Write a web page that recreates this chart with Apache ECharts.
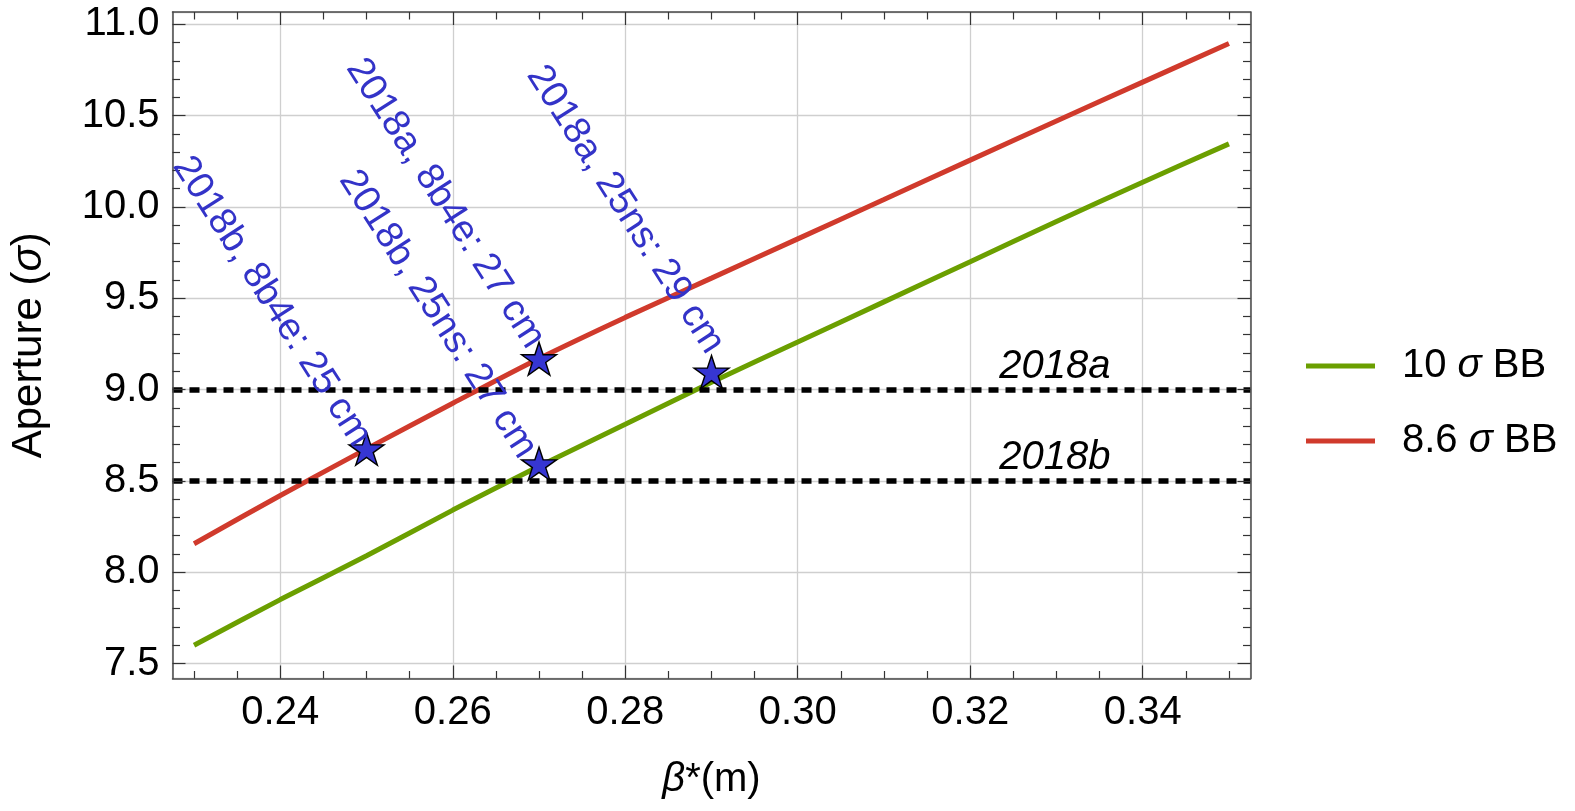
<!DOCTYPE html>
<html><head><meta charset="utf-8">
<script src="https://cdn.jsdelivr.net/npm/echarts@6/dist/echarts.min.js"></script>
<style>html,body{margin:0;padding:0;background:#fff}#c{width:1575px;height:811px}</style>
</head><body><div id="c"></div>
<script>
// ---- data ----
const betaStar   = [0.23, 0.24, 0.25, 0.26, 0.27, 0.28, 0.29, 0.30, 0.31, 0.32, 0.33, 0.34, 0.35];
const aperture10 = [7.60, 7.85, 8.09, 8.34, 8.58, 8.81, 9.04, 9.26, 9.48, 9.70, 9.92, 10.135, 10.345];
const aperture86 = [8.156, 8.42, 8.675, 8.925, 9.17, 9.395, 9.61, 9.825, 10.04, 10.256, 10.47, 10.683, 10.895];
const seriesNames = ['10 σ BB', '8.6 σ BB'];

const starBeta     = [0.25, 0.27, 0.27, 0.29];
const starAperture = [8.676, 9.169, 8.594, 9.096];
const starLabels   = ['2018b, 8b4e: 25 cm', '2018a, 8b4e: 27 cm', '2018b, 25ns: 27 cm', '2018a, 25ns: 29 cm'];

const refLevels = [9.0, 8.5];
const refNames  = ['2018a', '2018b'];

const xTicks = [0.24, 0.26, 0.28, 0.30, 0.32, 0.34];
const yTicks = [7.5, 8.0, 8.5, 9.0, 9.5, 10.0, 10.5, 11.0];

// ---- layout / style ----
const FONT = '"Liberation Sans", Arial, Helvetica, sans-serif';
const X_MIN = 0.2275, X_MAX = 0.3525, Y_MIN = 7.418, Y_MAX = 11.067;
const GREEN = '#6b9f00', RED = '#d03a2c', BLUE = '#3636d2', TEXTBLUE = '#3333c8';
const FRAME = '#4a4a4a', TICK = '#333';
// label anchor offsets (screen px, relative to star centre)
const labelShift = [[-4, -6], [-3, -14], [-11, -9], [4, -22]];

function minorValues(from, to, step, majors) {
  const out = [];
  const n = Math.round((to - from) / step);
  for (let i = 0; i <= n; i++) {
    const v = +(from + i * step).toFixed(4);
    if (!majors.some(m => Math.abs(m - v) < 1e-9)) out.push(v);
  }
  return out;
}
const xMinor = minorValues(0.23, 0.35, 0.005, xTicks);
const yMinor = minorValues(7.5, 11.0, 0.1, yTicks);

function starPath() {
  const pts = [];
  for (let i = 0; i < 10; i++) {
    const r = i % 2 === 0 ? 1 : 0.382;
    const a = -Math.PI / 2 + i * Math.PI / 5;
    pts.push((r * Math.cos(a)).toFixed(4) + ',' + (r * Math.sin(a)).toFixed(4));
  }
  return 'path://M' + pts.join('L') + 'Z';
}
const ROT = 1; // radians, clockwise
function rotOffset(g) {
  const c = Math.cos(ROT), s = Math.sin(ROT);
  return [g[0] * c + g[1] * s, -g[0] * s + g[1] * c];
}

const tickLine = { color: TICK, width: 1.2 };
const frameLine = { show: true, onZero: false, lineStyle: { color: FRAME, width: 1.5 } };
function decoAxis(pos, min, max, values, len, withLine) {
  return {
    type: 'value', position: pos, min: min, max: max, z: 5,
    axisLine: withLine ? frameLine : { show: false },
    axisTick: { show: true, inside: true, length: len, customValues: values, lineStyle: tickLine },
    axisLabel: { show: false }, splitLine: { show: false }
  };
}

const chart = echarts.init(document.getElementById('c'), null, { renderer: 'canvas' });
const option = {
  animation: false,
  backgroundColor: '#fff',
  textStyle: { fontFamily: FONT },
  grid: { left: 172.5, top: 12, right: 324.5, bottom: 132.5, containLabel: false },
  legend: {
    orient: 'vertical', left: 1306, top: 346, padding: 0,
    itemWidth: 69, itemHeight: 5, itemGap: 35, icon: 'rect',
    data: seriesNames,
    formatter: n => n.replace('σ', '{i|σ}'),
    textStyle: { fontSize: 40, color: '#000', fontFamily: FONT, padding: [0, 0, 0, 22],
      rich: { i: { fontStyle: 'italic', fontSize: 40, fontFamily: FONT, color: '#000' } } }
  },
  xAxis: [
    {
      type: 'value', position: 'bottom', min: X_MIN, max: X_MAX, splitNumber: 6,
      axisLine: { show: false }, axisTick: { show: false },
      axisLabel: { customValues: xTicks, formatter: v => v.toFixed(2), fontSize: 40, color: '#000', margin: 14, fontFamily: FONT },
      splitLine: { show: true, lineStyle: { color: '#cfcfcf', width: 1.3 } },
      name: '{i|β}*(m)', nameLocation: 'middle', nameGap: 81,
      nameTextStyle: { fontSize: 40, color: '#000', fontFamily: FONT,
        rich: { i: { fontStyle: 'italic', fontSize: 40, color: '#000', fontFamily: FONT } } }
    },
    decoAxis('bottom', X_MIN, X_MAX, xTicks, 13, true),
    decoAxis('bottom', X_MIN, X_MAX, xMinor, 7.5, false),
    decoAxis('top', X_MIN, X_MAX, xTicks, 13, true),
    decoAxis('top', X_MIN, X_MAX, xMinor, 7.5, false)
  ],
  yAxis: [
    {
      type: 'value', position: 'left', min: Y_MIN, max: Y_MAX, splitNumber: 7,
      axisLine: { show: false }, axisTick: { show: false },
      axisLabel: { customValues: yTicks, formatter: v => v.toFixed(1), fontSize: 40, color: '#000', margin: 13, fontFamily: FONT },
      splitLine: { show: true, lineStyle: { color: '#cfcfcf', width: 1.3 } },
      name: 'Aperture ({i|σ})', nameLocation: 'middle', nameGap: 122,
      nameTextStyle: { fontSize: 42, color: '#000', fontFamily: FONT,
        rich: { i: { fontStyle: 'italic', fontSize: 42, color: '#000', fontFamily: FONT } } }
    },
    decoAxis('left', Y_MIN, Y_MAX, yTicks, 13, true),
    decoAxis('left', Y_MIN, Y_MAX, yMinor, 7.5, false),
    decoAxis('right', Y_MIN, Y_MAX, yTicks, 13, true),
    decoAxis('right', Y_MIN, Y_MAX, yMinor, 7.5, false)
  ],
  series: [
    {
      name: 'ref', type: 'line', data: [], xAxisIndex: 0, yAxisIndex: 0, z: 2,
      markLine: {
        silent: true, symbol: 'none', animation: false,
        lineStyle: { color: '#000', type: [10, 7], width: 5.5, cap: 'butt' },
        label: { show: true, position: 'insideEndTop', formatter: p => p.name,
          fontStyle: 'italic', fontSize: 40, color: '#000', fontFamily: FONT, distance: [140, 3] },
        data: refLevels.map((v, i) => ({ yAxis: v, name: refNames[i] }))
      }
    },
    {
      name: seriesNames[0], type: 'line', xAxisIndex: 0, yAxisIndex: 0, z: 3,
      showSymbol: false, symbol: 'none', smooth: 0.3, color: GREEN,
      lineStyle: { color: GREEN, width: 5 },
      data: betaStar.map((b, i) => [b, aperture10[i]])
    },
    {
      name: seriesNames[1], type: 'line', xAxisIndex: 0, yAxisIndex: 0, z: 3,
      showSymbol: false, symbol: 'none', smooth: 0.3, color: RED,
      lineStyle: { color: RED, width: 5 },
      data: betaStar.map((b, i) => [b, aperture86[i]])
    },
    {
      name: 'stars', type: 'scatter', xAxisIndex: 0, yAxisIndex: 0, z: 6,
      symbol: starPath(), symbolSize: [35, 33],
      itemStyle: { color: BLUE, borderColor: '#000', borderWidth: 1.4, opacity: 1 },
      label: { show: true, position: 'inside', align: 'right', verticalAlign: 'middle',
        rotate: -ROT * 180 / Math.PI, fontSize: 38, color: TEXTBLUE, fontFamily: FONT,
        formatter: p => starLabels[p.dataIndex] },
      data: starBeta.map((b, i) => ({ value: [b, starAperture[i]], label: { offset: rotOffset(labelShift[i]) } }))
    }
  ]
};
chart.setOption(option);
</script>
</body></html>
